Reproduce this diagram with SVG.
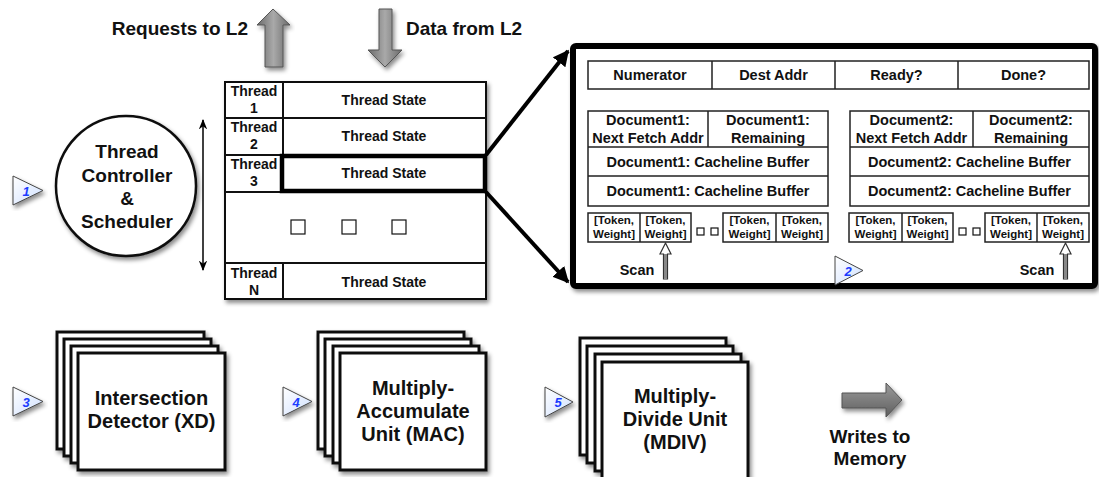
<svg xmlns="http://www.w3.org/2000/svg" width="1099" height="477" viewBox="0 0 1099 477">
  <style>
    text { font-family: "Liberation Sans", Arial, Helvetica, sans-serif; font-weight: bold; fill: #111; text-anchor: middle; }
    .lbl { font-size: 19px; }
    .cell { font-size: 14px; }
    .doc { font-size: 14.5px; }
    .tok { font-size: 11.5px; }
    .num { font-size: 13px; font-style: italic; fill: #1b3cff; }
    .box { fill: #fff; stroke: #111; stroke-width: 2; }
    .thin { fill: #fff; stroke: #222; stroke-width: 1.5; }
    .sq { fill: #fff; stroke: #111; stroke-width: 1.2; }
    .card { fill: #fff; stroke: #111; stroke-width: 3; }
    .tri { fill: url(#triFill); stroke: #444; stroke-width: 1; }
    .conn { stroke: #000; stroke-width: 4; fill: none; }
  </style>
  <defs>
    <filter id="shadow" x="-10%" y="-10%" width="125%" height="130%">
      <feDropShadow dx="2" dy="3" stdDeviation="2" flood-color="#000" flood-opacity="0.45"/>
    </filter>
    <linearGradient id="grayV" x1="0" y1="0" x2="1" y2="0">
      <stop offset="0" stop-color="#6a6a6a"/>
      <stop offset="0.5" stop-color="#a9a9a9"/>
      <stop offset="1" stop-color="#6a6a6a"/>
    </linearGradient>
    <linearGradient id="grayH" x1="0" y1="0" x2="0" y2="1">
      <stop offset="0" stop-color="#9c9c9c"/>
      <stop offset="1" stop-color="#5e5e5e"/>
    </linearGradient>
    <linearGradient id="triFill" x1="0" y1="0" x2="1" y2="1">
      <stop offset="0" stop-color="#ffffff"/>
      <stop offset="1" stop-color="#cfe0ff"/>
    </linearGradient>
    <marker id="head" viewBox="0 0 10 10" refX="9" refY="5" markerWidth="4" markerHeight="4" orient="auto">
      <path d="M0,0 L10,5 L0,10 z" fill="#000"/>
    </marker>
    <marker id="headSmall" viewBox="0 0 10 10" refX="9" refY="5" markerWidth="7" markerHeight="7" orient="auto-start-reverse">
      <path d="M0,1 L10,5 L0,9 L3,5 z" fill="#000"/>
    </marker>
  </defs>

  <!-- L2 traffic -->
  <g id="requests-l2">
    <polygon points="273,9 290,25 283,25 283,67 265,67 265,25 257,25" fill="url(#grayV)" stroke="#555" stroke-width="1" filter="url(#shadow)"/>
    <text class="lbl" x="248" y="35" style="text-anchor:end">Requests to L2</text>
  </g>
  <g id="data-l2">
    <polygon points="379,9 392,9 392,50 402,50 385,67 368,50 379,50" fill="url(#grayV)" stroke="#555" stroke-width="1" filter="url(#shadow)"/>
    <text class="lbl" x="406" y="35" style="text-anchor:start">Data from L2</text>
  </g>

  <!-- Thread controller -->
  <g id="controller">
    <circle cx="126" cy="186" r="70" fill="#fff" stroke="#111" stroke-width="2.5" filter="url(#shadow)"/>
    <text class="lbl" x="127" y="158">Thread</text>
    <text class="lbl" x="127" y="182">Controller</text>
    <text class="lbl" x="127" y="205">&amp;</text>
    <text class="lbl" x="127" y="228">Scheduler</text>
  </g>
  <g id="marker-1">
    <polygon class="tri" points="13,176 43,190.5 13,205" filter="url(#shadow)"/>
    <text class="num" x="26" y="196">1</text>
  </g>

  <!-- Thread table -->
  <g id="thread-table">
    <rect class="box" x="225" y="82" width="261" height="217" filter="url(#shadow)"/>
    <path d="M225,118 H486 M225,155 H486 M225,192 H486 M225,263 H486 M283,82 V192 M283,263 V299" stroke="#111" stroke-width="2" fill="none"/>
    <text class="cell" x="254" y="96">Thread</text><text class="cell" x="254" y="113">1</text>
    <text class="cell" x="254" y="132">Thread</text><text class="cell" x="254" y="149">2</text>
    <text class="cell" x="254" y="169">Thread</text><text class="cell" x="254" y="186">3</text>
    <text class="cell" x="254" y="278">Thread</text><text class="cell" x="254" y="295">N</text>
    <text class="cell" x="384" y="105">Thread State</text>
    <text class="cell" x="384" y="141">Thread State</text>
    <text class="cell" x="384" y="178">Thread State</text>
    <text class="cell" x="384" y="287">Thread State</text>
    <rect x="291" y="220" width="14" height="14" class="sq"/>
    <rect x="342" y="220" width="14" height="14" class="sq"/>
    <rect x="392" y="220" width="14" height="14" class="sq"/>
    <rect x="282" y="156" width="203" height="35" fill="none" stroke="#000" stroke-width="4.5"/>
  </g>

  <!-- Thread state detail -->
  <g id="state-detail">
    <rect x="573" y="46" width="522" height="240" rx="3" fill="#fff" stroke="#000" stroke-width="6" filter="url(#shadow)"/>
    <rect class="thin" x="588" y="61" width="501" height="28"/>
    <path d="M712,61 V89 M835,61 V89 M958,61 V89" stroke="#222" stroke-width="1.5"/>
    <text class="doc" x="650" y="80">Numerator</text>
    <text class="doc" x="773.5" y="80">Dest Addr</text>
    <text class="doc" x="896.5" y="80">Ready?</text>
    <text class="doc" x="1023.5" y="80">Done?</text>

    <!-- document 1 -->
    <rect class="thin" x="588" y="111" width="240" height="95"/>
    <path d="M588,147 H828 M588,176 H828 M708,111 V147" stroke="#222" stroke-width="1.5"/>
    <text class="doc" x="648" y="125">Document1:</text>
    <text class="doc" x="648" y="143">Next Fetch Addr</text>
    <text class="doc" x="768" y="125">Document1:</text>
    <text class="doc" x="768" y="143">Remaining</text>
    <text class="doc" x="708" y="167">Document1: Cacheline Buffer</text>
    <text class="doc" x="708" y="196">Document1: Cacheline Buffer</text>

    <!-- document 2 -->
    <rect class="thin" x="850" y="111" width="239" height="95"/>
    <path d="M850,147 H1089 M850,176 H1089 M973,111 V147" stroke="#222" stroke-width="1.5"/>
    <text class="doc" x="911.5" y="125">Document2:</text>
    <text class="doc" x="911.5" y="143">Next Fetch Addr</text>
    <text class="doc" x="1031" y="125">Document2:</text>
    <text class="doc" x="1031" y="143">Remaining</text>
    <text class="doc" x="969.5" y="167">Document2: Cacheline Buffer</text>
    <text class="doc" x="969.5" y="196">Document2: Cacheline Buffer</text>

    <!-- token lists -->
    <rect class="thin" x="588" y="213" width="103" height="29"/>
    <path d="M640,213 V242" stroke="#222" stroke-width="1.5"/>
    <rect class="thin" x="723" y="213" width="105" height="29"/>
    <path d="M776,213 V242" stroke="#222" stroke-width="1.5"/>
    <rect class="sq" x="697" y="228" width="7" height="7" stroke-width="1"/>
    <rect class="sq" x="711" y="228" width="7" height="7" stroke-width="1"/>
    <rect class="thin" x="849" y="213" width="104" height="29"/>
    <path d="M902,213 V242" stroke="#222" stroke-width="1.5"/>
    <rect class="thin" x="985" y="213" width="104" height="29"/>
    <path d="M1037,213 V242" stroke="#222" stroke-width="1.5"/>
    <rect class="sq" x="959" y="228" width="7" height="7" stroke-width="1"/>
    <rect class="sq" x="973" y="228" width="7" height="7" stroke-width="1"/>
    <g class="tok">
      <text class="tok" x="614" y="224">[Token,</text><text class="tok" x="614" y="238">Weight]</text>
      <text class="tok" x="665.5" y="224">[Token,</text><text class="tok" x="665.5" y="238">Weight]</text>
      <text class="tok" x="749.5" y="224">[Token,</text><text class="tok" x="749.5" y="238">Weight]</text>
      <text class="tok" x="802" y="224">[Token,</text><text class="tok" x="802" y="238">Weight]</text>
      <text class="tok" x="875.5" y="224">[Token,</text><text class="tok" x="875.5" y="238">Weight]</text>
      <text class="tok" x="927.5" y="224">[Token,</text><text class="tok" x="927.5" y="238">Weight]</text>
      <text class="tok" x="1011" y="224">[Token,</text><text class="tok" x="1011" y="238">Weight]</text>
      <text class="tok" x="1063" y="224">[Token,</text><text class="tok" x="1063" y="238">Weight]</text>
    </g>

    <!-- scan pointers -->
    <polygon points="665.5,243 671,254 667.5,254 667.5,279 663.5,279 663.5,254 660,254" fill="#fff" stroke="#333" stroke-width="1.2"/>
    <rect x="664" y="254" width="3" height="24.5" fill="#888"/>
    <text class="doc" x="637" y="275">Scan</text>
    <polygon points="1065.5,243 1071,254 1067.5,254 1067.5,279 1063.5,279 1063.5,254 1060,254" fill="#fff" stroke="#333" stroke-width="1.2"/>
    <rect x="1064" y="254" width="3" height="24.5" fill="#888"/>
    <text class="doc" x="1037" y="275">Scan</text>

    <g id="marker-2">
      <polygon class="tri" points="835,256 863,270.5 835,285"/>
      <text class="num" x="848" y="276">2</text>
    </g>
  </g>

  <!-- Connectors -->
  <g id="connectors">
    <line x1="203" y1="120" x2="203" y2="270" stroke="#000" stroke-width="1.5" marker-start="url(#headSmall)" marker-end="url(#headSmall)"/>
    <line class="conn" x1="486" y1="155" x2="568" y2="51" marker-end="url(#head)"/>
    <line class="conn" x1="486" y1="192" x2="568" y2="282" marker-end="url(#head)"/>
  </g>

  <!-- Intersection detectors -->
  <g id="xd" filter="url(#shadow)">
    <rect class="card" x="57" y="332" width="147" height="117"/>
    <rect class="card" x="64" y="339" width="147" height="117"/>
    <rect class="card" x="71" y="346" width="147" height="117"/>
    <rect class="card" x="78" y="353" width="147" height="117"/>
  </g>
  <g id="xd-label">
    <text class="lbl" x="151.5" y="405" style="font-size:20px">Intersection</text>
    <text class="lbl" x="151.5" y="428" style="font-size:20px">Detector (XD)</text>
  </g>
  <g id="marker-3">
    <polygon class="tri" points="13,387 43,401.5 13,416" filter="url(#shadow)"/>
    <text class="num" x="26" y="407">3</text>
  </g>

  <!-- Multiply-accumulate units -->
  <g id="mac" filter="url(#shadow)">
    <rect class="card" x="318" y="332" width="146" height="117"/>
    <rect class="card" x="325" y="339" width="146" height="117"/>
    <rect class="card" x="333" y="346" width="146" height="117"/>
    <rect class="card" x="340" y="353" width="146" height="117"/>
  </g>
  <g id="mac-label">
    <text class="lbl" x="413" y="395" style="font-size:20px">Multiply-</text>
    <text class="lbl" x="413" y="418" style="font-size:20px">Accumulate</text>
    <text class="lbl" x="413" y="441" style="font-size:20px">Unit (MAC)</text>
  </g>
  <g id="marker-4">
    <polygon class="tri" points="283,387 312,401.5 283,416" filter="url(#shadow)"/>
    <text class="num" x="296" y="407">4</text>
  </g>

  <!-- Multiply-divide units -->
  <g id="mdiv" filter="url(#shadow)">
    <rect class="card" x="580" y="338" width="146" height="117"/>
    <rect class="card" x="587" y="346" width="146" height="117"/>
    <rect class="card" x="595" y="354" width="146" height="117"/>
    <rect class="card" x="602" y="362" width="146" height="117"/>
  </g>
  <g id="mdiv-label">
    <text class="lbl" x="675" y="403" style="font-size:20px">Multiply-</text>
    <text class="lbl" x="675" y="426" style="font-size:20px">Divide Unit</text>
    <text class="lbl" x="675" y="449" style="font-size:20px">(MDIV)</text>
  </g>
  <g id="marker-5">
    <polygon class="tri" points="545,387 573,402 545,417" filter="url(#shadow)"/>
    <text class="num" x="558" y="407">5</text>
  </g>

  <!-- Memory writes -->
  <g id="writes-memory">
    <polygon points="842,393 886,393 886,383 902,400 886,417 886,408 842,408" fill="url(#grayH)" stroke="#555" stroke-width="1" filter="url(#shadow)"/>
    <text class="lbl" x="870" y="443">Writes to</text>
    <text class="lbl" x="870" y="465">Memory</text>
  </g>
</svg>
